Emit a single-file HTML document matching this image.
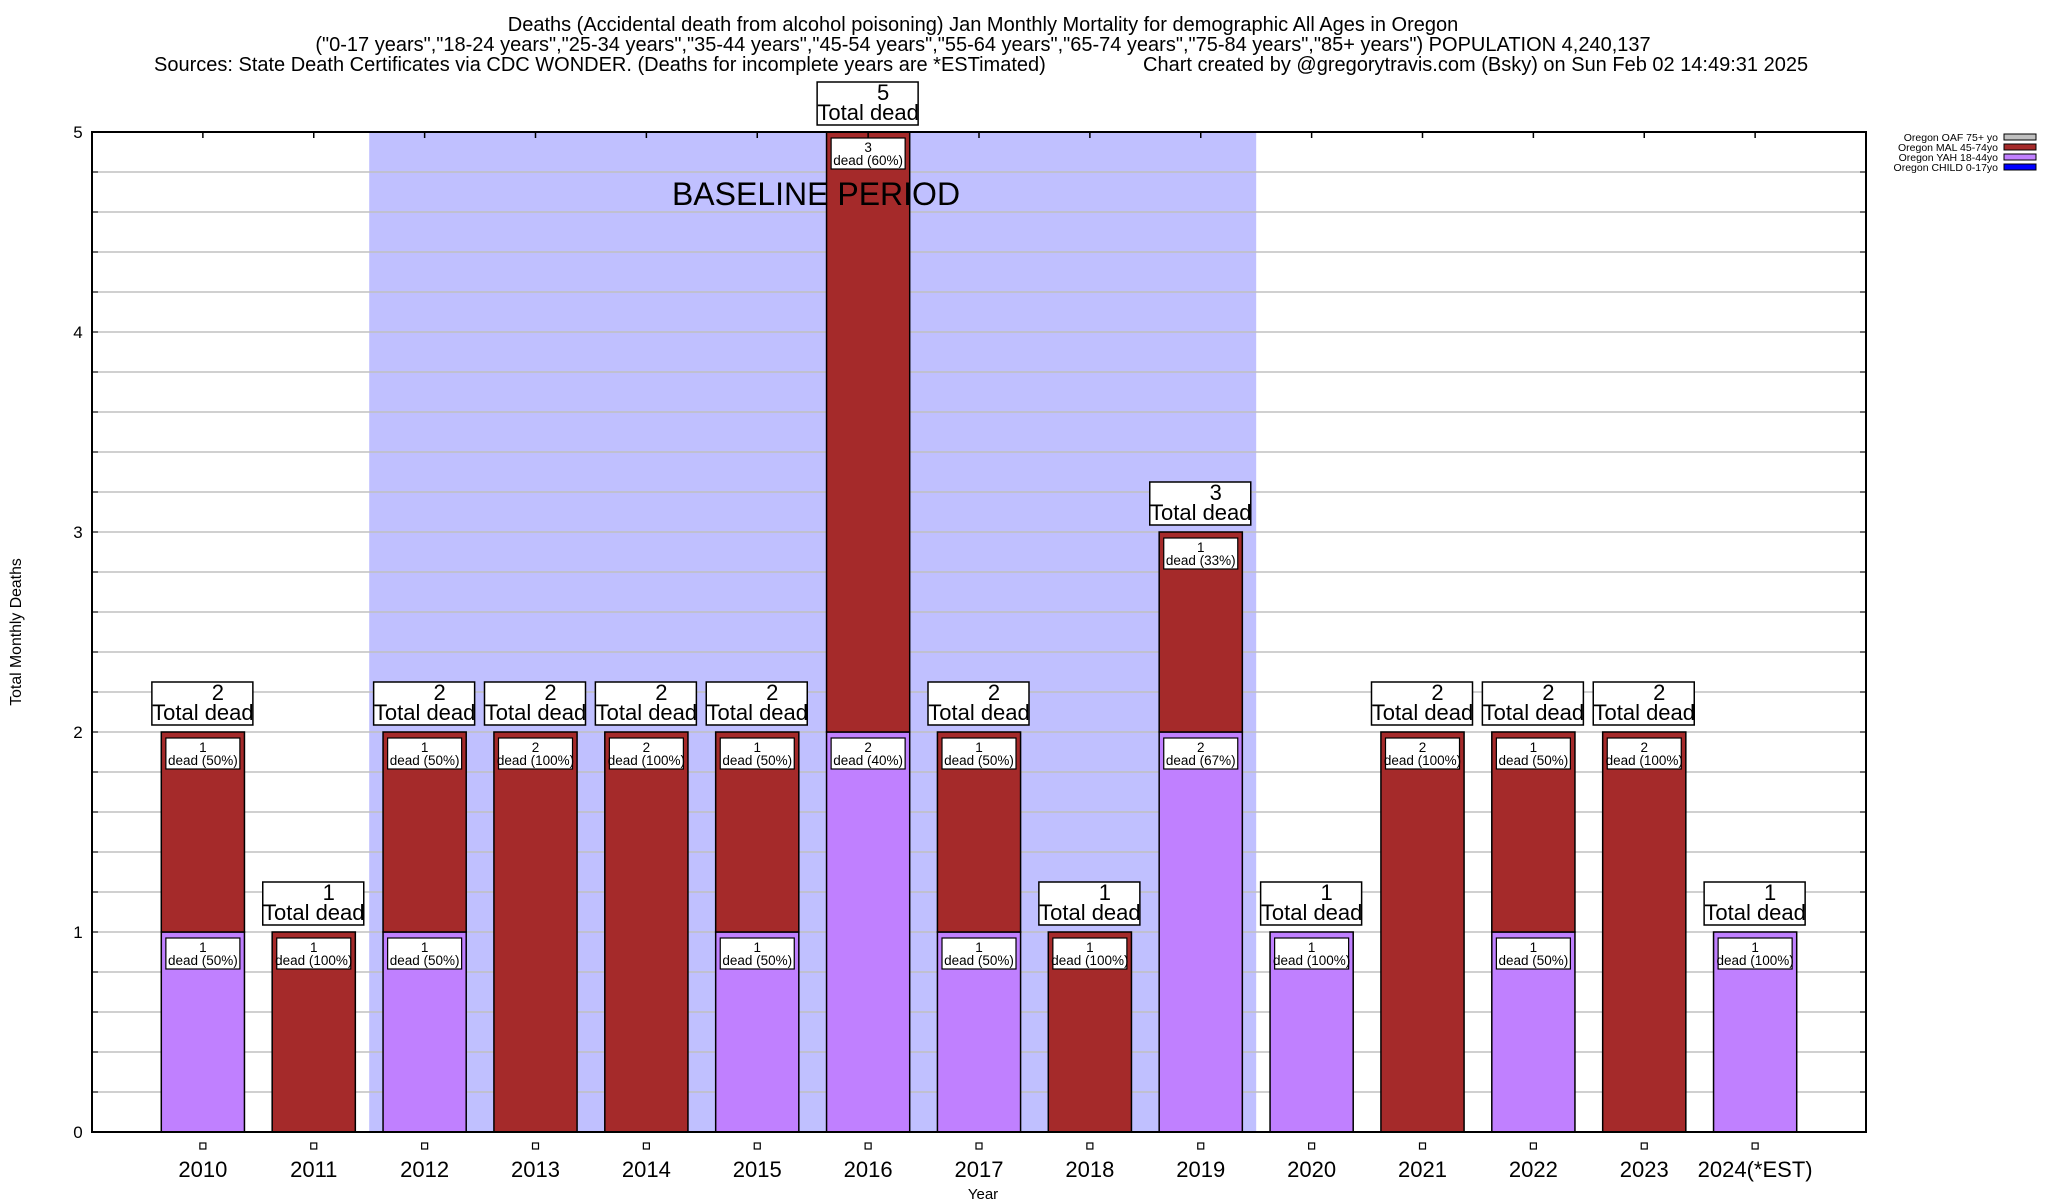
<!DOCTYPE html>
<html><head><meta charset="utf-8"><style>
html,body{margin:0;padding:0;background:#fff;}
svg{display:block;font-family:"Liberation Sans",sans-serif;}
</style></head><body>
<svg id="chart" width="2048" height="1200" viewBox="0 0 2048 1200">
<g font-size="20" fill="#000">
<text x="983" y="31" text-anchor="middle">Deaths (Accidental death from alcohol poisoning) Jan Monthly Mortality for demographic All Ages in Oregon</text>
<text x="983" y="51" text-anchor="middle">("0-17 years","18-24 years","25-34 years","35-44 years","45-54 years","55-64 years","65-74 years","75-84 years","85+ years") POPULATION 4,240,137</text>
<text x="154" y="71">Sources: State Death Certificates via CDC WONDER. (Deaths for incomplete years are *ESTimated)</text>
<text x="1143" y="71">Chart created by @gregorytravis.com (Bsky) on Sun Feb 02 14:49:31 2025</text>
</g>
<g id="plot"></g>
<text x="21" y="632" transform="rotate(-90 21 632)" text-anchor="middle" font-size="15.8">Total Monthly Deaths</text>
<text x="983" y="1199" text-anchor="middle" font-size="15">Year</text>
<g font-size="10.5">
<text x="1998" y="141" text-anchor="end">Oregon OAF 75+ yo</text>
<rect x="2004" y="134" width="32" height="6" fill="#c0c0c0" stroke="#000"/>
<text x="1998" y="151" text-anchor="end">Oregon MAL 45-74yo</text>
<rect x="2004" y="144" width="32" height="6" fill="#a52a2a" stroke="#000"/>
<text x="1998" y="161" text-anchor="end">Oregon YAH 18-44yo</text>
<rect x="2004" y="154" width="32" height="6" fill="#c080ff" stroke="#000"/>
<text x="1998" y="171" text-anchor="end">Oregon CHILD 0-17yo</text>
<rect x="2004" y="164" width="32" height="6" fill="#0000ff" stroke="#000"/>
</g>
</svg>
<script>
const years = ["2010","2011","2012","2013","2014","2015","2016","2017","2018","2019","2020","2021","2022","2023","2024(*EST)"];
const childDeaths = [0,0,0,0,0,0,0,0,0,0,0,0,0,0,0];
const yahDeaths = [1,0,1,0,0,1,2,1,0,2,1,0,1,0,1];
const malDeaths = [1,1,1,2,2,1,3,1,1,1,0,2,1,2,0];
const oafDeaths = [0,0,0,0,0,0,0,0,0,0,0,0,0,0,0];
const yTicks = [0,1,2,3,4,5];
const baselineStart = 2, baselineEnd = 9;

const NS = "http://www.w3.org/2000/svg";
const L = 92, R = 1866, T = 132, B = 1132, yMax = 5;
const slot = (R - L) / (years.length + 1);
const xC = i => L + (i + 1) * slot;
const yS = v => B - (v / yMax) * (B - T);
const bw = slot * 0.75;
const plot = document.getElementById("plot");
function el(tag, attrs, parent, txt) {
  const e = document.createElementNS(NS, tag);
  for (const k in attrs) e.setAttribute(k, attrs[k]);
  if (txt !== undefined) e.textContent = txt;
  (parent || plot).appendChild(e);
  return e;
}
const sh = el("rect", {x: xC(baselineStart) - slot/2, y: T, width: (baselineEnd - baselineStart + 1) * slot, height: B - T, fill: "#c0c0ff"});


for (let v = 0.2; v < yMax; v += 0.2) {
  const y = yS(v);
  const g = el("line", {x1: L, x2: R, y1: y, y2: y, stroke: "#c0c0c0", "stroke-width": 1.5});
  
  
  el("line", {x1: L, x2: L + 6, y1: y, y2: y, stroke: "#000"});
  el("line", {x1: R - 6, x2: R, y1: y, y2: y, stroke: "#000"});
}
yTicks.forEach(v => {
  const t = el("text", {x: 78, y: yS(v) + 6, "text-anchor": "middle", "font-size": 17}, plot, String(v));
  
  
});
const series = [
  {vals: childDeaths, color: "#0000ff", name: "child"},
  {vals: yahDeaths, color: "#c080ff", name: "yah"},
  {vals: malDeaths, color: "#a52a2a", name: "mal"},
  {vals: oafDeaths, color: "#c0c0c0", name: "oaf"}
];
years.forEach((yr, i) => {
  const cx = xC(i);
  const total = series.reduce((s, se) => s + se.vals[i], 0);
  let base = 0;
  series.forEach(se => {
    const v = se.vals[i];
    if (v > 0) {
      const y0 = yS(base), y1 = yS(base + v);
      const r = el("rect", {x: cx - bw/2, y: y1, width: bw, height: y0 - y1, fill: se.color, stroke: "#000", "stroke-width": 1.5});
      
      
      const bx = el("rect", {x: cx - 37, y: y1 + 6, width: 74, height: 31, fill: "#fff", stroke: "#000", "stroke-width": 1.2});
      
      
      el("text", {x: cx, y: y1 + 20, "text-anchor": "middle", "font-size": 13.5}, plot, String(v));
      const lt = el("text", {x: cx, y: y1 + 33, "text-anchor": "middle", "font-size": 13.5}, plot, "dead (" + Math.round(v / total * 100) + "%)");
      
      
    }
    base += v;
  });
  const ty = yS(total);
  const tb = el("rect", {x: cx - 51, y: ty - 50, width: 101, height: 43, fill: "#fff", stroke: "#000", "stroke-width": 1.5});
  
  
  el("text", {x: cx + 15, y: ty - 32, "text-anchor": "middle", "font-size": 22}, plot, String(total));
  const tt = el("text", {x: cx, y: ty - 12, "text-anchor": "middle", "font-size": 22}, plot, "Total dead");
  
  
  el("line", {x1: cx, x2: cx, y1: T, y2: T + 6, stroke: "#000", "stroke-width": 1.5});
  const m = el("rect", {x: cx - 3, y: B + 11, width: 6, height: 6, fill: "#fff", stroke: "#000", "stroke-width": 1.2});
  
  
  const xl = el("text", {x: cx, y: B + 45, "text-anchor": "middle", "font-size": 22}, plot, yr);
  
  
});
const bt = el("text", {x: 816, y: 205, "text-anchor": "middle", "font-size": 32}, plot, "BASELINE PERIOD");


const frame = el("rect", {x: L, y: T, width: R - L, height: B - T, fill: "none", stroke: "#000", "stroke-width": 2});


</script>
</body></html>
